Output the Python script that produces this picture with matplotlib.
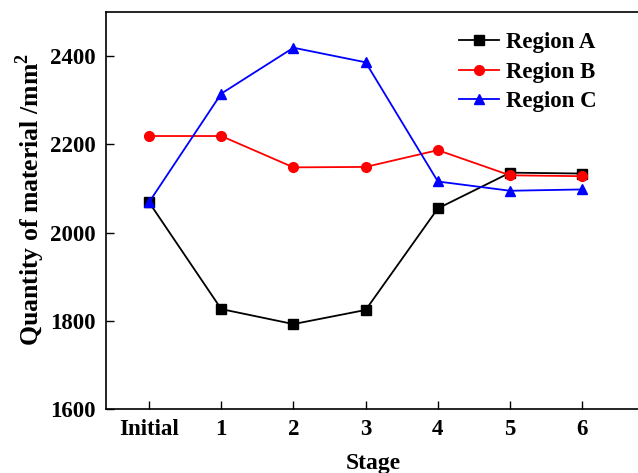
import matplotlib
matplotlib.use('Agg')
import matplotlib.pyplot as plt

stages = ['Initial', '1', '2', '3', '4', '5', '6']
region_a = [2069, 1827, 1793, 1825, 2055, 2136, 2134]
region_b = [2219, 2219, 2148, 2149, 2187, 2130, 2128]
region_c = [2069, 2315, 2419, 2386, 2116, 2095, 2098]

plt.rcParams['font.family'] = 'Liberation Serif'
plt.rcParams['font.weight'] = 'bold'

fig = plt.figure(figsize=(6.38, 4.73), dpi=100)
ax = fig.add_axes([0.1657, 0.1347, 0.8375, 0.84])

x = list(range(len(stages)))
ax.plot(x, region_a, color='black', marker='s', markersize=6.5, lw=1.3, label='Region A')
ax.plot(x, region_b, color='red', marker='o', markersize=7, lw=1.3, label='Region B')
ax.plot(x, region_c, color='blue', marker='^', markersize=7.5, lw=1.3, label='Region C')

ax.set_xlim(-0.6, 6.8)
ax.set_ylim(1600, 2500)
ax.set_xticks(x)
ax.set_xticklabels(stages)
ax.set_yticks([1600, 1800, 2000, 2200, 2400])
ax.tick_params(direction='in', length=6, width=1, labelsize=16.5, pad=7)
for s in ax.spines.values():
    s.set_linewidth(1.2)

ax.set_xlabel('Stage', fontsize=17, fontweight='bold', labelpad=9)
ax.set_ylabel('Quantity of material /mm$^{\\mathregular{2}}$', fontsize=18.5, fontweight='bold')
ax.yaxis.set_label_coords(-0.11, 0.527)

ax.legend(loc='upper right', bbox_to_anchor=(0.95, 0.952), bbox_transform=fig.transFigure,
          frameon=False, fontsize=16.5, handlelength=1.75, handletextpad=0.3,
          labelspacing=0.38, borderaxespad=0)

fig.savefig('out.png', dpi=100)
